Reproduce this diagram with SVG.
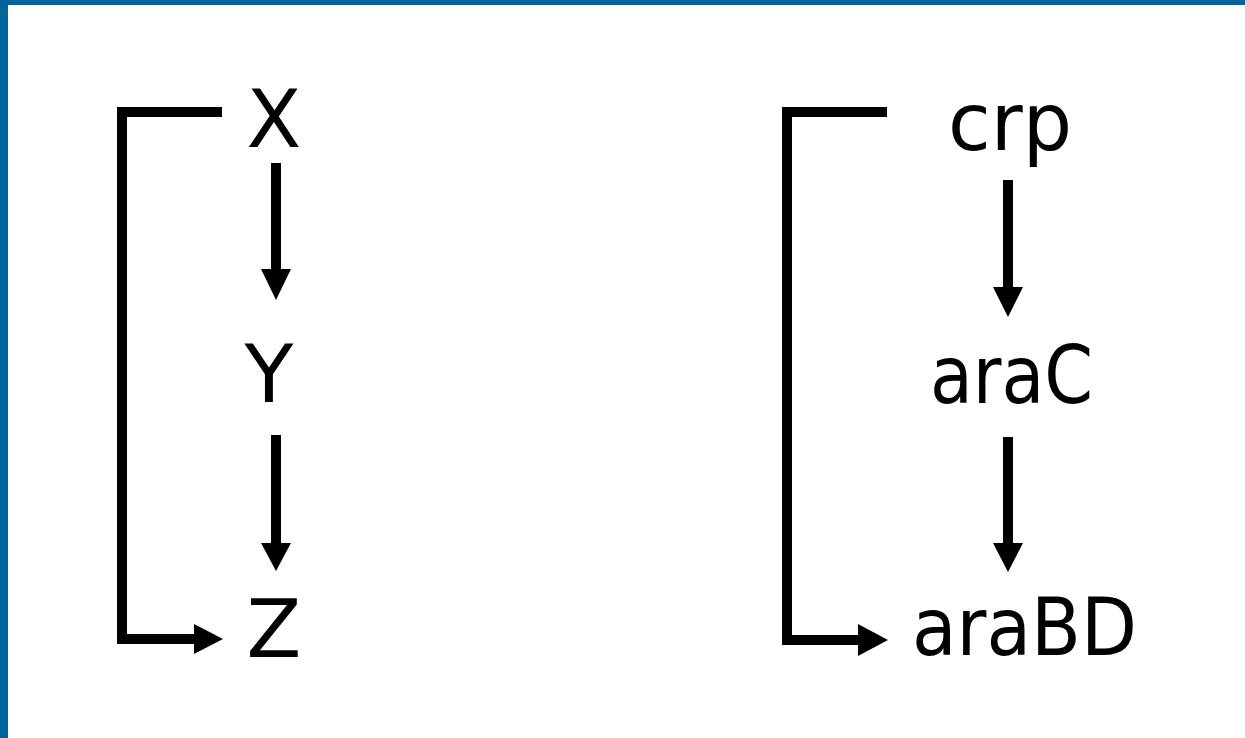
<svg xmlns="http://www.w3.org/2000/svg" width="1245" height="738" viewBox="0 0 1245 738">
  <style>
    .label { font-family: "Comic Sans MS", "DejaVu Sans", "Liberation Sans", sans-serif; font-size: 80px; fill: #000; }
    .wire { fill: none; stroke: #000; stroke-width: 10; stroke-linejoin: miter; stroke-linecap: butt; }
    .head { fill: #000; }
  </style>

  <!-- page background and frame -->
  <rect x="0" y="0" width="1245" height="738" fill="#ffffff"/>
  <rect x="0" y="0" width="1245" height="5" fill="#006699"/>
  <rect x="0" y="0" width="8" height="738" fill="#006699"/>

  <!-- connectors -->
  <g id="connectors">
    <!-- left motif: X -> Y -> Z, plus X -> Z -->
    <line class="wire" x1="276" y1="163" x2="276" y2="270"/>
    <polygon class="head" points="261,269 291,269 276,300"/>
    <line class="wire" x1="276" y1="435" x2="276" y2="544"/>
    <polygon class="head" points="261,543 291,543 276,571"/>
    <polyline class="wire" points="222,112 122,112 122,639 195,639"/>
    <polygon class="head" points="194,624 194,654 223,639"/>

    <!-- right motif: crp -> araC -> araBD, plus crp -> araBD -->
    <line class="wire" x1="1008" y1="180" x2="1008" y2="288"/>
    <polygon class="head" points="993,287 1023,287 1008,317"/>
    <line class="wire" x1="1008" y1="437" x2="1008" y2="544"/>
    <polygon class="head" points="993,543 1023,543 1008,572"/>
    <polyline class="wire" points="887,112 787,112 787,640 859,640"/>
    <polygon class="head" points="858,624 858,656 888,640"/>
  </g>

  <!-- nodes -->
  <g id="node-X"><text class="label" x="274" y="147" text-anchor="middle">X</text></g>
  <g id="node-Y"><text class="label" x="269" y="402" text-anchor="middle">Y</text></g>
  <g id="node-Z"><text class="label" x="274" y="657" text-anchor="middle">Z</text></g>

  <g id="node-crp"><text class="label" x="948" y="150" textLength="124" lengthAdjust="spacingAndGlyphs">crp</text></g>
  <g id="node-araC"><text class="label" x="930" y="403" textLength="163" lengthAdjust="spacingAndGlyphs">araC</text></g>
  <g id="node-araBD"><text class="label" x="912" y="655" textLength="225" lengthAdjust="spacingAndGlyphs">araBD</text></g>
</svg>
